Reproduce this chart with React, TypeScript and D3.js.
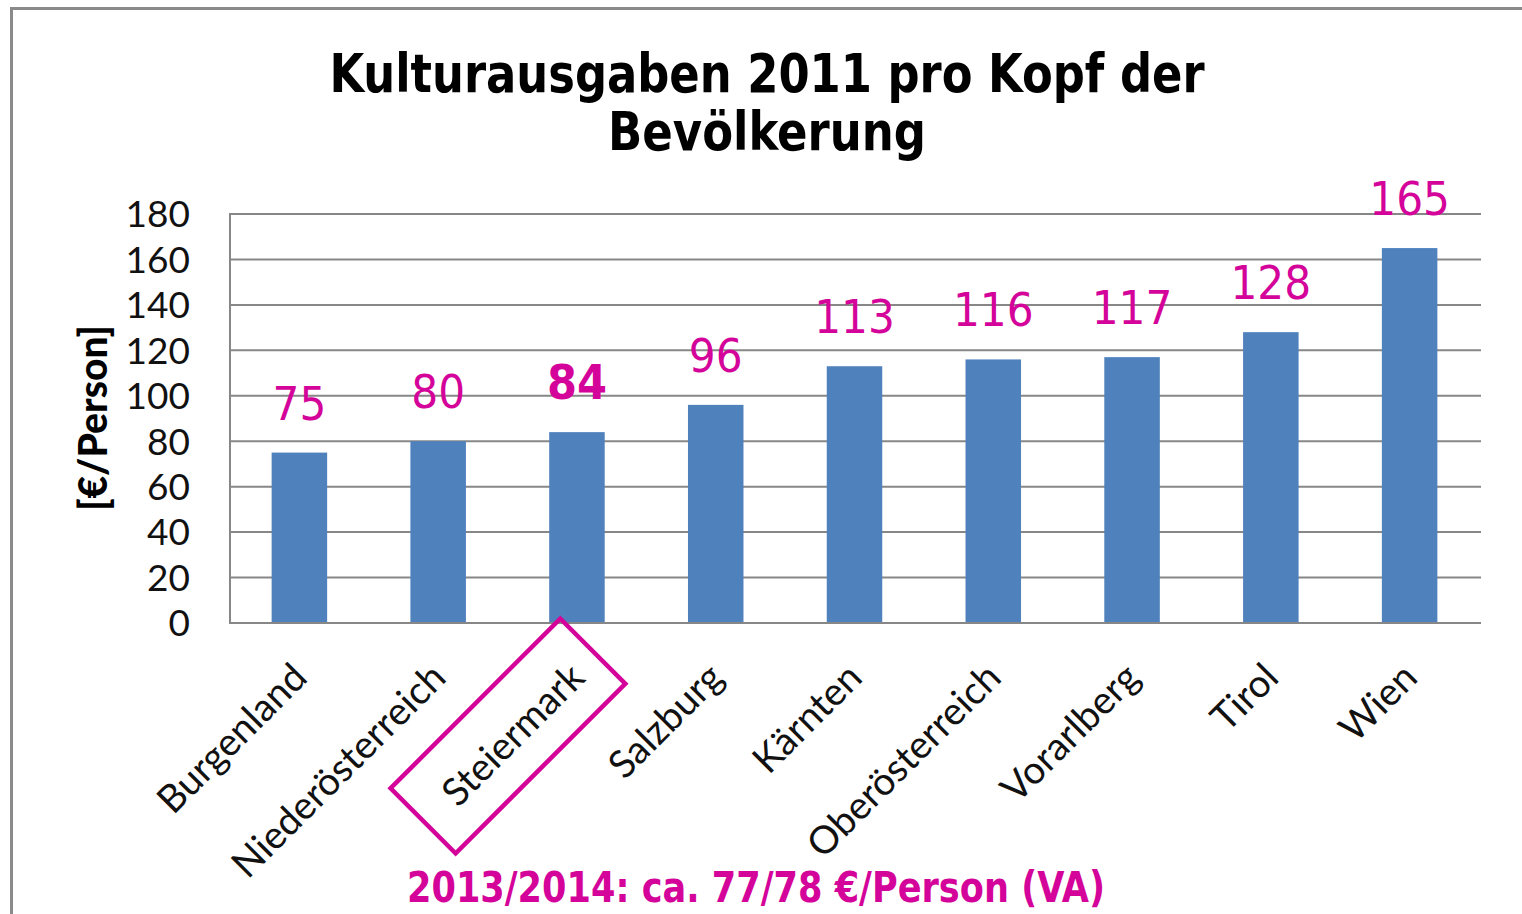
import React from "react";
import * as d3 from "d3";

const categories = [
  "Burgenland",
  "Niederösterreich",
  "Steiermark",
  "Salzburg",
  "Kärnten",
  "Oberösterreich",
  "Vorarlberg",
  "Tirol",
  "Wien",
];
const values = [75, 80, 84, 96, 113, 116, 117, 128, 165];
const yTicks = [0, 20, 40, 60, 80, 100, 120, 140, 160, 180];
const highlighted = "Steiermark";
const titleLines = ["Kulturausgaben 2011 pro Kopf der", "Bevölkerung"];
const yAxisTitle = "[€/Person]";
const footnote = "2013/2014: ca. 77/78 €/Person (VA)";

const W = 1522;
const H = 914;
const plot = { left: 230, right: 1479, top: 214, bottom: 623 };
const MAGENTA = "#D4049A";
const BAR = "#4F81BD";
const GRID = "#878787";
const CONDENSED = "'DejaVu Sans Condensed', 'DejaVu Sans', sans-serif";
const LABELFONT = "Lato, 'Open Sans', sans-serif";

export default function App() {
  const x = d3
    .scaleBand<string>()
    .domain(categories)
    .range([plot.left, plot.right])
    .padding(0);
  const y = d3.scaleLinear().domain([0, 180]).range([plot.bottom, plot.top]);
  const barW = x.step() * 0.4;
  const cx = (c: string) => (x(c) as number) + x.bandwidth() / 2;

  const hx = cx(highlighted) - 69;
  const hy = 736;

  return (
    <svg
      width={W}
      height={H}
      style={{ position: "absolute", left: 0, top: 0, display: "block" }}
    >
      <rect x={0} y={0} width={W} height={H} fill="#fff" />
      <rect
        x={11.5}
        y={8.5}
        width={W + 100}
        height={H + 100}
        fill="#fff"
        stroke="#8a8a8a"
        strokeWidth={3}
      />

      {/* title */}
      <g
        fontFamily={CONDENSED}
        fontWeight="bold"
        fontSize={54}
        fill="#000"
        textAnchor="middle"
      >
        <text x={767} y={92} textLength={875} lengthAdjust="spacingAndGlyphs">
          {titleLines[0]}
        </text>
        <text x={767} y={150} textLength={318} lengthAdjust="spacingAndGlyphs">
          {titleLines[1]}
        </text>
      </g>

      {/* gridlines */}
      {yTicks.map((t) => (
        <line
          key={t}
          x1={plot.left}
          x2={plot.right + 2}
          y1={y(t)}
          y2={y(t)}
          stroke={GRID}
          strokeWidth={2}
        />
      ))}
      <line
        x1={plot.left}
        x2={plot.left}
        y1={plot.top - 1}
        y2={plot.bottom + 1}
        stroke={GRID}
        strokeWidth={2}
      />

      {/* y tick labels */}
      <g fontFamily={LABELFONT} fontSize={37} fill="#111" textAnchor="end">
        {yTicks.map((t) => (
          <text key={t} x={190} y={y(t)} dy="0.36em">
            {t}
          </text>
        ))}
      </g>

      {/* y axis title */}
      <text
        transform="translate(93,418) rotate(-90)"
        textAnchor="middle"
        dy="0.36em"
        fontFamily={LABELFONT}
        fontWeight="900"
        fontSize={39}
        fill="#000"
      >
        {yAxisTitle}
      </text>

      {/* bars */}
      {categories.map((c, i) => (
        <rect
          key={c}
          x={cx(c) - barW / 2}
          y={y(values[i])}
          width={barW}
          height={plot.bottom - y(values[i])}
          fill={BAR}
        />
      ))}
      <line
        x1={plot.left}
        x2={plot.right + 2}
        y1={plot.bottom}
        y2={plot.bottom}
        stroke={GRID}
        strokeWidth={2}
      />

      {/* data labels */}
      {categories.map((c, i) => (
        <text
          key={c}
          x={cx(c)}
          y={y(values[i]) - 33}
          textAnchor="middle"
          fontFamily={CONDENSED}
          fontSize={c === highlighted ? 48 : 47}
          fontWeight={c === highlighted ? "bold" : "normal"}
          fill={MAGENTA}
        >
          {values[i]}
        </text>
      ))}

      {/* category labels */}
      <g fontFamily={LABELFONT} fontSize={38.5} fill="#111" textAnchor="end">
        {categories.map((c) => (
          <text
            key={c}
            transform={`translate(${cx(c)},${plot.bottom + 47}) rotate(-45)`}
            dy="0.36em"
          >
            {c}
          </text>
        ))}
      </g>

      {/* highlight box */}
      <rect
        x={-120}
        y={-46}
        width={240}
        height={92}
        transform={`translate(${hx},${hy}) rotate(-45)`}
        fill="none"
        stroke={MAGENTA}
        strokeWidth={4.5}
      />

      {/* footnote */}
      <text
        x={756}
        y={902}
        textAnchor="middle"
        fontFamily={CONDENSED}
        fontWeight="bold"
        fontSize={42}
        fill={MAGENTA}
        textLength={698}
        lengthAdjust="spacingAndGlyphs"
      >
        {footnote}
      </text>
    </svg>
  );
}
